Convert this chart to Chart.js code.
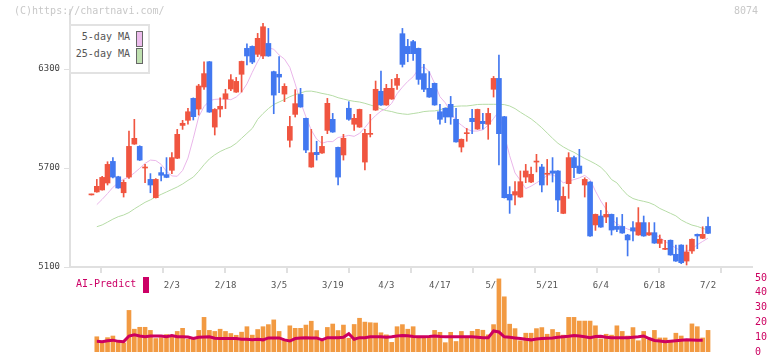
<!DOCTYPE html>
<html>
<head>
<meta charset="utf-8">
<script src="https://cdn.jsdelivr.net/npm/chart.js@4.4.1/dist/chart.umd.min.js"></script>
<style>
  body { margin: 0; background: #fff; }
  #wrap { position: relative; width: 772px; height: 361px; overflow: hidden; font-family: 'DejaVu Sans Mono', monospace; }
  canvas { position: absolute; left: 0; top: 0; }
  .txt { position: absolute; white-space: pre; }
  #legend { position: absolute; left: 69px; top: 24px; width: 77px; height: 46px; border: 2px solid #e2e2e2; background: #fff; }
  .sw { position: absolute; width: 5px; height: 14px; border: 1px solid #666; }
</style>
</head>
<body>
<div id="wrap">
  <canvas id="priceChart" width="772" height="361"></canvas>
  <canvas id="volChart" width="772" height="361"></canvas>
  <div class="txt" style="left:14px;top:5px;font-size:10px;color:#c8c8c8;">(C)https://chartnavi.com/</div>
  <div class="txt" style="left:734px;top:5px;font-size:10px;color:#c8c8c8;">8074</div>
  <div id="legend">
    <div class="txt" style="right:18px;top:5px;font-size:10px;color:#555;">5-day MA</div>
    <div class="sw" style="left:65px;top:5px;background:#ecbcec;"></div>
    <div class="txt" style="right:18px;top:22px;font-size:10px;color:#555;">25-day MA</div>
    <div class="sw" style="left:65px;top:22px;background:#bfe0b0;"></div>
  </div>
  <div class="txt" style="left:76px;top:278px;font-size:10px;color:#cc0066;">AI-Predict</div>
  <div style="position:absolute;left:143px;top:277px;width:6px;height:16px;background:#cc0066;"></div>
</div>
<script>
// date labels shown under the price chart, and the candle they belong to
const dateTicks = ['2/3', '2/18', '3/5', '3/19', '4/3', '4/17', '5/7', '5/21', '6/4', '6/18', '7/2'];
const dateTickIndex = [15, 25, 35, 45, 55, 65, 75, 85, 95, 105, 115];

// daily prices (116 trading days)
const opens = [5537,5555,5567,5609,5740,5647,5550,5645,5845,5831,5700,5631,5520,5672,5660,5686,5759,5958,5989,6122,
  6057,6191,6344,5948,6057,6118,6179,6160,6268,6425,6437,6389,6379,6455,6284,6268,6148,5868,6025,6146,
  6001,5706,5795,5791,5928,5995,5825,5779,6062,5965,5948,5736,5904,6051,6165,6082,6118,6201,6514,6437,
  6466,6425,6272,6183,6213,6041,6062,6086,5995,5827,5908,6001,5936,5983,5965,6177,6243,6011,5540,5536,
  5524,5645,5615,5736,5706,5662,5682,5682,5425,5605,5763,5712,5597,5615,5355,5409,5403,5419,5346,5346,
  5294,5338,5294,5369,5294,5308,5243,5207,5262,5177,5233,5136,5197,5298,5274,5346];
const highs = [5540,5631,5650,5738,5763,5650,5627,5924,5995,5835,5722,5666,5636,5706,5763,5793,5934,5989,6062,6125,
  6207,6344,6346,6060,6126,6177,6266,6249,6348,6453,6440,6516,6577,6546,6287,6375,6211,6013,6175,6183,
  6003,5934,5862,5892,6122,6031,5827,5904,6102,6025,6057,5934,6025,6227,6288,6207,6237,6268,6546,6480,
  6474,6427,6328,6284,6215,6086,6064,6134,6062,5876,5940,6055,6057,6031,6062,6255,6385,6013,5587,5617,
  5682,5722,5706,5783,5722,5752,5763,5684,5585,5793,5773,5813,5641,5617,5421,5443,5490,5421,5399,5419,
  5298,5375,5460,5409,5369,5369,5294,5262,5264,5233,5235,5233,5270,5300,5344,5403];
const lows = [5536,5553,5565,5597,5640,5577,5524,5637,5843,5745,5611,5550,5518,5621,5641,5666,5757,5934,5965,5991,
  6021,6177,6037,5900,6009,6060,6169,6158,6160,6324,6332,6375,6363,6377,6029,6156,6102,5827,6009,6068,
  5793,5704,5748,5789,5908,5916,5597,5748,5989,5928,5946,5688,5888,6049,6080,6080,6116,6177,6312,6344,
  6352,6207,6163,6128,6080,5965,5975,5965,5856,5797,5862,5908,5934,5936,5874,6130,5718,5518,5425,5476,
  5522,5611,5611,5676,5555,5597,5615,5435,5423,5516,5641,5666,5524,5286,5322,5340,5369,5294,5314,5304,
  5167,5258,5292,5286,5292,5243,5217,5205,5171,5134,5120,5112,5183,5211,5272,5302];
const closes = [5539,5589,5643,5722,5645,5579,5613,5831,5880,5748,5704,5597,5631,5656,5643,5763,5904,5971,6041,6011,
  6197,6272,6039,6055,6074,6150,6235,6225,6346,6379,6342,6486,6556,6379,6142,6251,6195,5952,6090,6070,
  5809,5793,5781,5831,6092,5918,5645,5880,5995,6001,6055,5910,5908,6177,6082,6183,6183,6243,6328,6393,
  6393,6237,6177,6130,6082,5995,6009,6009,5858,5874,5912,5981,6055,5969,6031,6243,5908,5520,5506,5557,
  5617,5682,5662,5740,5597,5666,5668,5506,5528,5763,5702,5668,5631,5288,5419,5342,5419,5324,5328,5306,
  5264,5318,5369,5288,5308,5245,5268,5211,5173,5136,5126,5191,5268,5288,5298,5304];

// moving averages as drawn on the chart
const ma5 = [null,5478,5510,5545,5583,5610,5632,5645,5670,5698,5728,5748,5745,5722,5680,5652,5650,5685,5760,5880,
  6010,6072,6108,6116,6118,6118,6114,6130,6160,6210,6280,6345,6400,6428,6420,6385,6360,6310,6210,6100,
  6010,5930,5875,5850,5860,5860,5885,5890,5898,5892,5910,5945,5985,6018,6045,6060,6092,6150,6190,6225,
  6253,6300,6314,6284,6213,6132,6095,6040,5985,5960,5935,5924,5924,5932,5960,6000,6045,5900,5775,5670,
  5625,5575,5590,5610,5630,5655,5660,5640,5610,5620,5630,5640,5655,5630,5560,5500,5450,5395,5360,5345,
  5330,5320,5312,5308,5305,5298,5280,5255,5235,5215,5198,5196,5210,5235,5255,5275];
const ma25 = [null,5344,5355,5372,5390,5405,5415,5430,5452,5472,5492,5507,5525,5540,5555,5570,5585,5603,5625,5645,
  5680,5720,5755,5780,5800,5815,5828,5850,5880,5910,5940,5995,6030,6060,6085,6100,6115,6132,6145,6155,
  6165,6166,6160,6152,6146,6138,6126,6118,6110,6104,6100,6092,6082,6072,6058,6048,6042,6033,6028,6025,
  6030,6035,6042,6045,6046,6052,6064,6070,6074,6076,6076,6080,6085,6086,6086,6086,6086,6084,6076,6060,
  6038,6018,5998,5972,5944,5912,5880,5850,5828,5810,5795,5776,5758,5742,5725,5705,5672,5630,5610,5570,
  5535,5515,5505,5498,5490,5476,5455,5440,5425,5410,5385,5368,5354,5346,5334,5325];

// volume bars and AI-Predict line (lower panel)
const volumes = [null,10.3,6.1,9.7,10.8,7.0,6.1,28.1,15.4,16.7,16.7,14.6,9.1,9.7,11.8,11.2,13.9,16.0,8.6,8.6,
  14.6,23.4,14.6,13.9,15.4,13.9,12.5,11.3,13.4,17.1,11.4,15.2,17.1,18.5,21.7,13.9,8.1,17.7,16.0,16.0,
  18.2,20.8,14.5,7.4,16.6,18.9,14.5,18.2,9.3,18.6,22.8,20.2,19.8,19.6,13.0,11.6,6.5,17.1,18.5,15.4,
  17.1,9.5,9.5,9.5,14.6,13.3,6.3,13.3,7.1,13.9,9.5,14.0,15.3,14.7,11.6,18.5,49.4,37.3,18.8,15.8,
  7.6,12.7,12.7,15.8,16.5,12.0,15.2,13.3,11.4,23.4,23.4,20.9,20.9,20.9,17.7,8.9,12.0,11.4,17.7,13.9,
  10.8,16.5,7.6,13.9,8.2,14.6,9.5,9.5,7.0,12.7,10.8,8.2,19.0,17.1,9.5,14.6];
const aiPredict = [null,7.2,7.0,7.6,8.0,7.2,7.0,10.8,11.6,10.8,10.3,10.8,10.8,10.8,10.3,11.2,10.3,10.3,10.1,9.1,
  9.9,10.1,10.3,9.3,9.1,9.1,9.1,9.1,8.6,8.6,8.2,8.6,8.2,9.5,9.5,9.5,8.2,7.4,9.1,9.5,
  9.7,9.5,9.5,8.2,9.7,9.7,9.7,10.0,12.4,8.6,9.7,9.7,10.3,10.3,10.3,9.9,10.3,10.8,11.2,11.0,
  10.5,10.3,10.3,10.5,10.8,10.5,10.3,10.3,10.3,10.3,10.3,10.3,10.0,9.7,9.7,14.2,13.5,10.3,9.9,9.5,
  9.1,8.6,8.2,8.8,9.1,9.3,9.5,10.0,10.3,10.6,11.2,10.8,10.3,9.7,10.4,10.6,10.0,9.7,9.7,9.7,
  9.7,10.0,10.3,10.8,9.1,7.8,7.5,7.0,7.3,7.6,7.9,8.2,8.1,8.0,8.0];

const priceTicks = [5100, 5700, 6300];
const volTicks = [0, 10, 20, 30, 40, 50];

const upColor = '#f05540';
const downColor = '#4278f0';
const mono = "'DejaVu Sans Mono', monospace";

// x range so that candle 0 sits a little right of the axis
const xMin = -4.0, xMax = 123.2;
const yMin = 5100, yMax = 5100 + 257 * 600 / 99;

const days = closes.map((c, i) => i);
const candleColor = ctx => closes[ctx.dataIndex] >= opens[ctx.dataIndex] ? upColor : downColor;

new Chart(document.getElementById('priceChart'), {
  type: 'bar',
  data: {
    datasets: [
      {
        label: 'body',
        data: days.map(i => ({ x: i, y: [opens[i], closes[i]] })),
        backgroundColor: candleColor,
        barThickness: 5,
        minBarLength: 1,
        grouped: false,
        order: 0
      },
      {
        label: 'wick',
        data: days.map(i => ({ x: i, y: [lows[i], highs[i]] })),
        backgroundColor: candleColor,
        barThickness: 1,
        minBarLength: 1,
        grouped: false,
        order: 1
      },
      {
        type: 'line',
        label: '5-day MA',
        data: days.map(i => ({ x: i, y: ma5[i] })),
        borderColor: '#eab6ea',
        borderWidth: 1,
        pointRadius: 0,
        order: 2
      },
      {
        type: 'line',
        label: '25-day MA',
        data: days.map(i => ({ x: i, y: ma25[i] })),
        borderColor: '#b6dca6',
        borderWidth: 1,
        pointRadius: 0,
        order: 3
      }
    ]
  },
  options: {
    responsive: false,
    animation: false,
    events: [],
    layout: { padding: { top: 10, right: 20, left: 0, bottom: 0 } },
    plugins: { legend: { display: false }, tooltip: { enabled: false } },
    scales: {
      x: {
        type: 'linear',
        min: xMin,
        max: xMax,
        offset: false,
        weight: 1,
        grid: { display: false, drawTicks: false },
        border: { display: false },
        afterBuildTicks: s => { s.ticks = dateTickIndex.map(v => ({ value: v })); },
        afterFit: s => { s.height = 94; },
        ticks: {
          autoSkip: false,
          maxRotation: 0,
          padding: 13,
          color: '#555',
          font: { family: mono, size: 9 },
          callback: v => dateTicks[dateTickIndex.indexOf(v)]
        }
      },
      xg: {
        type: 'linear',
        position: 'bottom',
        min: 0,
        max: 11,
        offset: false,
        weight: 0,
        afterFit: s => { s.height = 0; },
        ticks: { display: false, stepSize: 1 },
        grid: { drawOnChartArea: false, drawTicks: true, tickLength: 6, color: '#e0e0e0', lineWidth: 2 },
        border: { color: '#e0e0e0', width: 2 }
      },
      y: {
        min: yMin,
        max: yMax,
        afterBuildTicks: s => { s.ticks = priceTicks.map(v => ({ value: v })); },
        afterFit: s => { s.width = 70; },
        grid: { drawOnChartArea: false, drawTicks: true, tickLength: 6, color: '#e0e0e0', lineWidth: 1 },
        border: { color: '#e0e0e0', width: 2 },
        ticks: { padding: 4, color: '#444', font: { family: mono, size: 9 }, callback: v => String(v) }
      }
    }
  }
});

new Chart(document.getElementById('volChart'), {
  type: 'bar',
  data: {
    datasets: [
      {
        type: 'line',
        label: 'AI-Predict',
        data: days.map(i => ({ x: i, y: aiPredict[i] })),
        borderColor: '#cc0060',
        borderWidth: 3,
        pointRadius: 0,
        order: 0
      },
      {
        label: 'volume',
        data: days.map(i => ({ x: i, y: volumes[i] })),
        backgroundColor: '#f29a42',
        barThickness: 4,
        order: 1
      }
    ]
  },
  options: {
    responsive: false,
    animation: false,
    events: [],
    layout: { padding: { top: 278, right: 0, left: 70, bottom: 4 } },
    plugins: { legend: { display: false }, tooltip: { enabled: false } },
    scales: {
      x: { type: 'linear', min: xMin, max: xMax, offset: false, display: false },
      y: {
        position: 'right',
        min: 0,
        max: 50,
        afterBuildTicks: s => { s.ticks = volTicks.map(v => ({ value: v })); },
        afterFit: s => { s.width = 20; },
        grid: { display: false, drawTicks: false },
        border: { display: false },
        ticks: { padding: 3, color: '#cc0060', font: { family: mono, size: 10 } }
      }
    }
  }
});
</script>
</body>
</html>
